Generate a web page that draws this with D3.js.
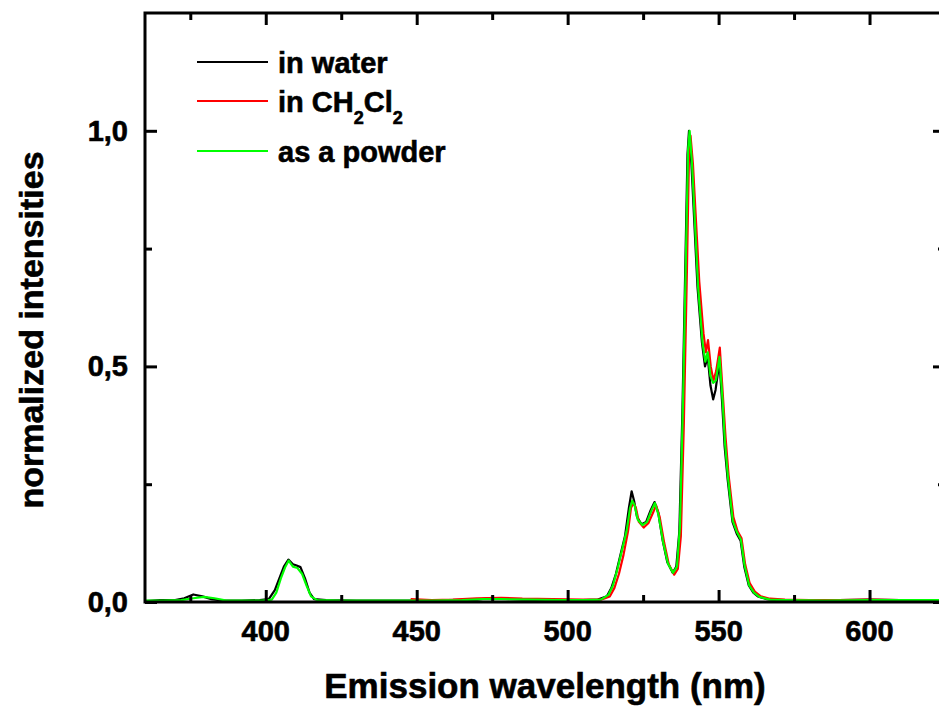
<!DOCTYPE html>
<html>
<head>
<meta charset="utf-8">
<script src="https://cdn.jsdelivr.net/npm/d3@7"></script>
<style>
  body { margin: 0; background: #fff; }
  svg { display: block; font-family: "Liberation Sans", Arial, sans-serif; font-weight: bold; }
  svg text { stroke: #000; stroke-width: 0.6px; }
</style>
</head>
<body>
<svg width="939" height="706"></svg>
<script>
// Spectra: [wavelength (nm), normalized intensity].
const water = [
  [360, 0.002], [365, 0.004], [370, 0.004], [373, 0.008], [376, 0.016], [379, 0.012],
  [382, 0.006], [386, 0.003], [392, 0.003], [398, 0.004], [401, 0.006], [403, 0.025],
  [404.5, 0.05], [406, 0.075], [407.5, 0.09], [409, 0.08], [410, 0.078], [411.5, 0.074],
  [413, 0.05], [414.5, 0.02], [416, 0.006], [420, 0.004], [430, 0.003], [440, 0.003],
  [450, 0.003], [460, 0.004], [470, 0.005], [475, 0.009], [478, 0.007], [485, 0.005],
  [495, 0.004], [505, 0.004], [510, 0.005], [513, 0.012], [514.5, 0.03], [516, 0.06],
  [517.5, 0.1], [519, 0.14], [520.3, 0.2], [521.2, 0.235], [522, 0.215], [523, 0.18],
  [524.5, 0.165], [526, 0.17], [527.5, 0.195], [528.8, 0.212], [530, 0.19], [531.5, 0.13],
  [533, 0.085], [534.8, 0.062], [536, 0.075], [537, 0.15], [538, 0.4], [539, 0.72],
  [539.7, 0.95], [540.2, 1.0], [541, 0.93], [542, 0.8], [543, 0.67], [544.5, 0.55],
  [545.5, 0.5], [546.4, 0.52], [547.3, 0.46], [548.2, 0.43], [549, 0.45], [550.3, 0.51],
  [551.2, 0.42], [552, 0.33], [553, 0.26], [554.6, 0.17], [556, 0.145], [557.3, 0.13],
  [558.5, 0.075], [560, 0.035], [561.5, 0.02], [563, 0.012], [566, 0.006], [570, 0.004],
  [580, 0.003], [590, 0.004], [600, 0.005], [610, 0.004], [625, 0.004]
];

const dichloromethane = [
  [448, 0.006], [455, 0.004], [462, 0.005], [470, 0.008], [478, 0.009], [485, 0.007],
  [495, 0.006], [505, 0.005], [511, 0.005], [514, 0.012], [515.5, 0.03], [517, 0.06],
  [518.5, 0.1], [520, 0.15], [521, 0.2], [521.8, 0.21], [522.6, 0.2], [523.6, 0.17],
  [525.2, 0.158], [526.8, 0.168], [528.3, 0.19], [529.3, 0.205], [530.5, 0.18], [532, 0.125],
  [533.5, 0.08], [535.3, 0.058], [536.5, 0.07], [537.5, 0.14], [538.5, 0.38], [539.5, 0.7],
  [540.2, 0.95], [540.7, 0.99], [541.5, 0.93], [542.5, 0.81], [543.6, 0.68], [545, 0.57],
  [545.8, 0.53], [546.5, 0.556], [547.4, 0.5], [548.3, 0.47], [549.2, 0.49], [550.4, 0.54],
  [551.4, 0.44], [552.3, 0.35], [553.3, 0.27], [554.9, 0.18], [556.3, 0.15], [557.6, 0.135],
  [558.8, 0.08], [560.3, 0.04], [562, 0.022], [564, 0.012], [567, 0.007], [572, 0.005],
  [580, 0.004], [590, 0.004], [600, 0.005], [610, 0.004], [625, 0.004]
];

const powder = [
  [360, 0.003], [366, 0.003], [372, 0.004], [376, 0.008], [379.5, 0.011], [383, 0.008],
  [387, 0.003], [393, 0.003], [399, 0.003], [402, 0.005], [403.5, 0.02], [405, 0.05],
  [406.5, 0.075], [407.6, 0.088], [409, 0.075], [410.5, 0.072], [412, 0.06], [413.5, 0.035],
  [415, 0.012], [417, 0.004], [425, 0.003], [440, 0.003], [455, 0.003], [465, 0.004],
  [472, 0.006], [478, 0.006], [488, 0.005], [498, 0.004], [506, 0.004], [511, 0.005],
  [513.5, 0.015], [515, 0.035], [516.5, 0.07], [518, 0.11], [519.5, 0.15], [520.7, 0.2],
  [521.4, 0.215], [522.2, 0.205], [523.2, 0.175], [524.8, 0.163], [526.3, 0.17], [527.8, 0.195],
  [528.9, 0.21], [530.1, 0.185], [531.6, 0.128], [533.2, 0.082], [534.9, 0.062], [536.2, 0.075],
  [537.2, 0.16], [538.2, 0.42], [539.2, 0.74], [539.9, 0.96], [540.4, 1.0], [541.2, 0.93],
  [542.2, 0.8], [543.2, 0.67], [544.7, 0.55], [545.6, 0.51], [546.4, 0.53], [547.3, 0.48],
  [548.2, 0.465], [549.1, 0.47], [550.3, 0.52], [551.3, 0.43], [552.1, 0.34], [553.1, 0.265],
  [554.7, 0.172], [556.1, 0.148], [557.4, 0.132], [558.6, 0.078], [560.1, 0.036], [561.7, 0.02],
  [563.5, 0.011], [567, 0.005], [572, 0.004], [585, 0.003], [600, 0.004], [612, 0.004],
  [625, 0.004]
];

const series = [
  { name: "in water", color: "#000000", values: water },
  { name: "in CH2Cl2", color: "#ff0000", values: dichloromethane },
  { name: "as a powder", color: "#00ff00", values: powder }
];

const xMajorTicks = [400, 450, 500, 550, 600];
const xMinorTicks = [375, 425, 475, 525, 575, 625];
const yMajorTicks = [0, 0.5, 1.0];
const yMinorTicks = [0.25, 0.75];

// Layout.
const margin = { top: 13, right: -6, bottom: 104, left: 145 };
const width = 939, height = 706;
const svg = d3.select("svg");
const innerW = width - margin.left - margin.right;
const innerH = height - margin.top - margin.bottom;

const x = d3.scaleLinear().domain([360, 625]).range([margin.left, margin.left + innerW]);
const y = d3.scaleLinear().domain([0, 1.25]).range([margin.top + innerH, margin.top]);

const majorLen = 12, minorLen = 7;
const fmt = (d) => d3.format(".1f")(d).replace(".", ",");

svg.append("clipPath").attr("id", "plot")
  .append("rect")
  .attr("x", margin.left).attr("y", margin.top)
  .attr("width", innerW).attr("height", innerH);

// Curves.
const line = d3.line().x((d) => x(d[0])).y((d) => y(d[1]));
svg.append("g").attr("clip-path", "url(#plot)")
  .selectAll("path")
  .data(series)
  .join("path")
  .attr("fill", "none")
  .attr("stroke", (s) => s.color)
  .attr("stroke-width", 2.2)
  .attr("stroke-linejoin", "round")
  .attr("d", (s) => line(s.values));

// Axes: ticks point inward on all four sides.
function axis(makeGen, translate, ticks, len) {
  svg.append("g")
    .attr("transform", translate)
    .call(makeGen().tickValues(ticks).tickSize(-len).tickFormat(""))
    .call((g) => g.select(".domain").remove())
    .call((g) => g.selectAll("line").attr("stroke-width", 3));
}
const bottomY = y(0), topY = y(1.25), leftX = x(360), rightX = x(625);
[[() => d3.axisBottom(x), `translate(0,${bottomY})`],
 [() => d3.axisTop(x), `translate(0,${topY})`]].forEach(([gen, tr]) => {
  axis(gen, tr, xMajorTicks, majorLen);
  axis(gen, tr, xMinorTicks, minorLen);
});
[[() => d3.axisLeft(y), `translate(${leftX},0)`],
 [() => d3.axisRight(y), `translate(${rightX},0)`]].forEach(([gen, tr]) => {
  axis(gen, tr, yMajorTicks, majorLen);
  axis(gen, tr, yMinorTicks, minorLen);
});

// Frame.
svg.append("rect")
  .attr("x", leftX).attr("y", topY)
  .attr("width", rightX - leftX).attr("height", bottomY - topY)
  .attr("fill", "none").attr("stroke", "#000").attr("stroke-width", 3);

// Tick labels.
svg.append("g")
  .selectAll("text")
  .data(xMajorTicks)
  .join("text")
  .attr("x", (d) => x(d))
  .attr("y", bottomY + 39)
  .attr("text-anchor", "middle")
  .attr("font-size", 29)
  .text((d) => d);

svg.append("g")
  .selectAll("text")
  .data(yMajorTicks)
  .join("text")
  .attr("x", leftX - 17)
  .attr("y", (d) => y(d) + 10)
  .attr("text-anchor", "end")
  .attr("font-size", 29)
  .text(fmt);

// Axis titles.
svg.append("text")
  .attr("x", (leftX + rightX) / 2)
  .attr("y", 698)
  .attr("text-anchor", "middle")
  .attr("font-size", 35)
  .text("Emission wavelength (nm)");

svg.append("text")
  .attr("transform", `translate(43,330) rotate(-90)`)
  .attr("text-anchor", "middle")
  .attr("font-size", 34)
  .text("normalized intensities");

// Legend.
const legendRows = [62, 101, 151];
const legend = svg.append("g");
series.forEach((s, i) => {
  const ly = legendRows[i];
  legend.append("line")
    .attr("x1", 197).attr("x2", 268)
    .attr("y1", ly).attr("y2", ly)
    .attr("stroke", s.color).attr("stroke-width", 2);
  const t = legend.append("text")
    .attr("x", 278).attr("y", ly + 11)
    .attr("font-size", 29);
  if (s.name === "in CH2Cl2") {
    t.append("tspan").text("in CH");
    t.append("tspan").attr("font-size", 18).attr("dy", 12).text("2");
    t.append("tspan").attr("dy", -12).text("Cl");
    t.append("tspan").attr("font-size", 18).attr("dy", 12).text("2");
  } else {
    t.text(s.name);
  }
});
</script>
</body>
</html>
